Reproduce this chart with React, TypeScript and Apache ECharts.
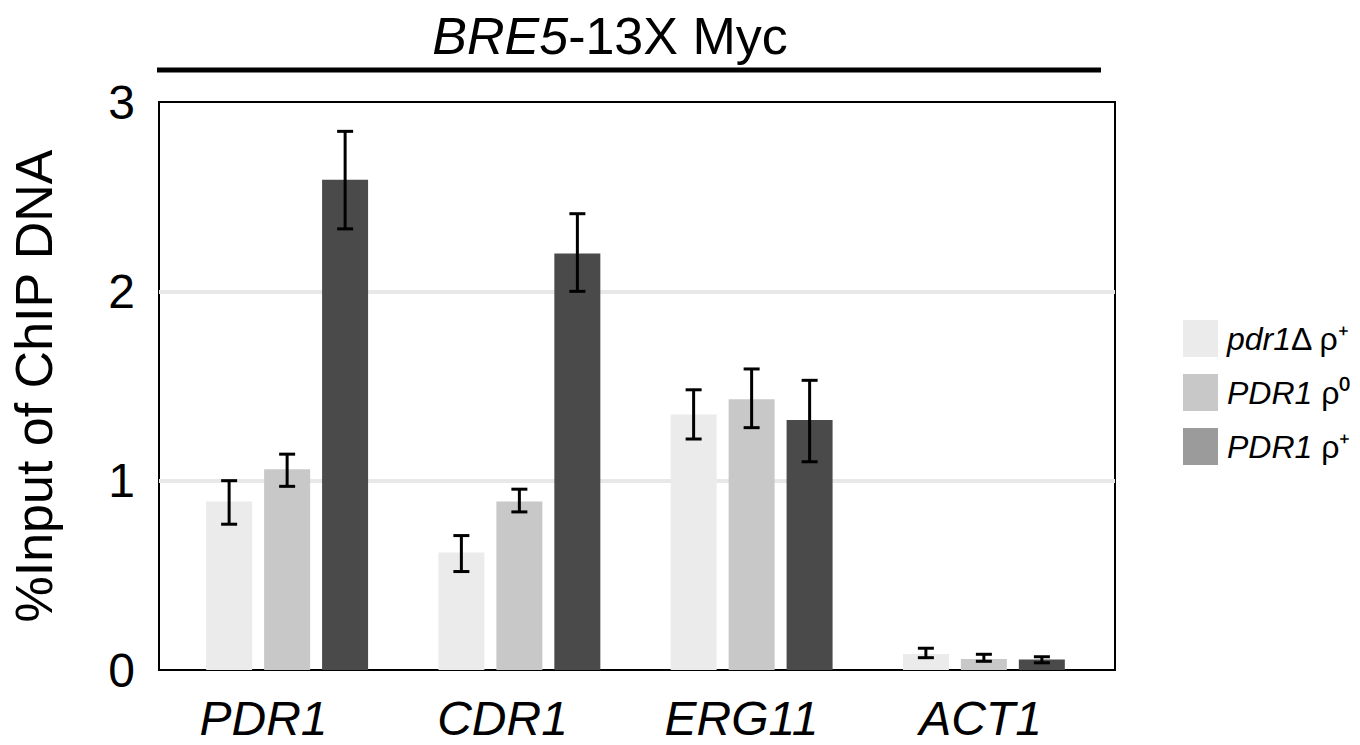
import React, { useEffect, useRef } from "react";
import * as echarts from "echarts";

const categories = ["PDR1", "CDR1", "ERG11", "ACT1"];
const seriesNames = ["pdr1Δ ρ+", "PDR1 ρ0", "PDR1 ρ+"];
const meanDelta = [0.89, 0.62, 1.35, 0.085];
const lowDelta = [0.77, 0.52, 1.22, 0.065];
const highDelta = [1.0, 0.71, 1.48, 0.115];
const meanRho0 = [1.06, 0.89, 1.43, 0.058];
const lowRho0 = [0.97, 0.835, 1.28, 0.046];
const highRho0 = [1.14, 0.955, 1.59, 0.083];
const meanRhoPlus = [2.59, 2.2, 1.32, 0.055];
const lowRhoPlus = [2.33, 2.0, 1.1, 0.038];
const highRhoPlus = [2.845, 2.41, 1.53, 0.07];
const yTicks = [0, 1, 2, 3];

const FONT = "'Liberation Sans', Arial, sans-serif";
const barColors = ["#ebebeb", "#c8c8c8", "#4a4a4a"];
const legendColors = ["#ebebeb", "#c8c8c8", "#9b9b9b"];
const BAR_W = 46;
const BAR_STEP = 58;

export default function App() {
  const ref = useRef<HTMLDivElement>(null);
  useEffect(() => {
    if (!ref.current) return;
    const chart = echarts.init(ref.current, undefined, { renderer: "svg" });
    const means = [meanDelta, meanRho0, meanRhoPlus];
    const lows = [lowDelta, lowRho0, lowRhoPlus];
    const highs = [highDelta, highRho0, highRhoPlus];

    const barSeries = seriesNames.map((name, s) => ({
      name,
      type: "bar",
      xAxisIndex: 1,
      yAxisIndex: 1,
      barWidth: BAR_W,
      barGap: "26%",
      itemStyle: { color: barColors[s] },
      data: means[s],
      z: 2,
    }));

    const errSeries = seriesNames.map((name, s) => ({
      name: name + " err",
      type: "custom",
      xAxisIndex: 1,
      yAxisIndex: 1,
      z: 5,
      data: categories.map((_, i) => [i, lows[s][i], highs[s][i]]),
      renderItem: (params: any, api: any) => {
        const off = (s - 1) * BAR_STEP;
        const x = api.coord([api.value(0), 0])[0] + off;
        const yl = api.coord([api.value(0), api.value(1)])[1];
        const yh = api.coord([api.value(0), api.value(2)])[1];
        const cw = 8;
        const st = { stroke: "#000", lineWidth: 3 };
        return {
          type: "group",
          children: [
            { type: "line", shape: { x1: x, y1: yl, x2: x, y2: yh }, style: st },
            { type: "line", shape: { x1: x - cw, y1: yl, x2: x + cw, y2: yl }, style: st },
            { type: "line", shape: { x1: x - cw, y1: yh, x2: x + cw, y2: yh }, style: st },
          ],
        };
      },
    }));

    const legendLabel: Record<string, string> = {
      "pdr1Δ ρ+": "{i|pdr1}{n|Δ ρ⁺}",
      "PDR1 ρ0": "{i|PDR1} {n|ρ⁰}",
      "PDR1 ρ+": "{i|PDR1} {n|ρ⁺}",
    };

    chart.setOption({
      animation: false,
      backgroundColor: "#fff",
      grid: [
        {
          left: 157,
          top: 102,
          width: 958,
          height: 568,
          show: true,
          borderColor: "#000",
          borderWidth: 2,
          backgroundColor: "transparent",
        },
        { left: 171, top: 102, width: 929, height: 568 },
      ],
      xAxis: [
        {
          type: "category",
          gridIndex: 0,
          data: categories,
          axisLine: { show: false },
          axisTick: { show: false },
          axisLabel: {
            color: "#000",
            fontFamily: FONT,
            fontStyle: "italic",
            fontSize: 48,
            margin: 24,
            padding: [0, 30, 0, 0],
          },
        },
        {
          type: "category",
          gridIndex: 1,
          data: categories,
          axisLine: { show: false },
          axisTick: { show: false },
          axisLabel: { show: false },
        },
      ],
      yAxis: [
        {
          type: "value",
          gridIndex: 0,
          min: 0,
          max: 3,
          interval: 1,
          name: "%Input of ChIP DNA",
          nameLocation: "middle",
          nameGap: 99,
          nameTextStyle: { color: "#000", fontFamily: FONT, fontSize: 52 },
          axisLine: { show: false },
          axisTick: { show: false },
          axisLabel: {
            color: "#000",
            fontFamily: FONT,
            fontSize: 48,
            margin: 24,
            formatter: (v: number) => (yTicks.includes(v) ? String(v) : ""),
          },
          splitLine: {
            show: true,
            showMinLine: false,
            showMaxLine: false,
            lineStyle: { color: "#e8e8e8", width: 4 },
          },
        },
        {
          type: "value",
          gridIndex: 1,
          min: 0,
          max: 3,
          interval: 1,
          show: false,
          splitLine: { show: false },
        },
      ],
      legend: {
        orient: "vertical",
        left: 1178,
        top: 315,
        itemWidth: 35,
        itemHeight: 37,
        itemGap: 17,
        icon: "rect",
        data: seriesNames.map((n, i) => ({ name: n, itemStyle: { color: legendColors[i] } })),
        formatter: (n: string) => legendLabel[n] || n,
        textStyle: {
          color: "#000",
          fontFamily: FONT,
          fontSize: 32,
          padding: [0, 0, 0, 4],
          rich: {
            i: { fontStyle: "italic", fontSize: 32, fontFamily: FONT, color: "#000" },
            n: { fontSize: 32, fontFamily: FONT, color: "#000" },
          },
        },
      },
      graphic: [
        {
          type: "text",
          x: 610,
          y: 36,
          style: {
            text: "{i|BRE5}-13X Myc",
            fill: "#000",
            font: `52px ${FONT}`,
            align: "center",
            verticalAlign: "middle",
            rich: {
              i: { fontStyle: "italic", fontSize: 52, fontFamily: FONT, fill: "#000" },
            },
          },
        },
        {
          type: "line",
          shape: { x1: 157, y1: 70, x2: 1101, y2: 70 },
          style: { stroke: "#000", lineWidth: 5 },
        },
      ],
      series: [...barSeries, ...errSeries],
    });
    return () => chart.dispose();
  }, []);
  return (
    <div
      ref={ref}
      style={{ position: "fixed", left: 0, top: 0, width: 1360, height: 745 }}
    />
  );
}
